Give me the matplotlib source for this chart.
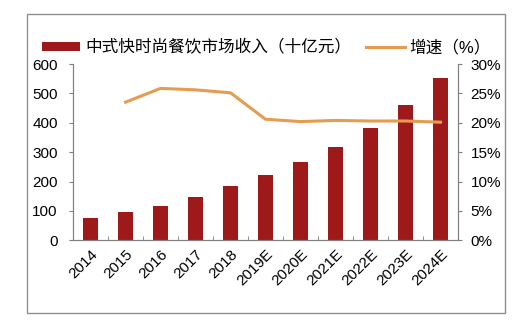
import matplotlib.pyplot as plt
from matplotlib.patches import Rectangle
from matplotlib.ticker import FuncFormatter

plt.rcParams['font.family'] = ['Liberation Sans', 'Noto Sans CJK SC', 'DejaVu Sans']

years = ["2014", "2015", "2016", "2017", "2018", "2019E",
         "2020E", "2021E", "2022E", "2023E", "2024E"]
revenue = [77, 95, 118, 148, 184, 221, 265, 318, 383, 461, 553]
growth = [None, 23.5, 25.85, 25.6, 25.1, 20.6, 20.2, 20.4, 20.3, 20.3, 20.1]

bar_color = "#9E1A1A"
line_color = "#E69C50"

fig = plt.figure(figsize=(5.27, 3.29), dpi=100)
ax = fig.add_axes([73 / 527, 1 - 240.3 / 329, (458 - 73) / 527, (240.3 - 64) / 329])

x = list(range(len(years)))
bars = ax.bar(x, revenue, width=0.45, color=bar_color, label="中式快时尚餐饮市场收入（十亿元）")
ax.set_xlim(-0.5, len(years) - 0.5)
ax.set_ylim(0, 600)
ax.set_yticks(range(0, 601, 100))
ax.set_xticks(x)
ax.set_xticklabels(years, rotation=45, ha="right", rotation_mode="anchor", fontsize=11)
ax.tick_params(axis="x", length=0, pad=5)
ax.set_xticks([i + 0.5 for i in x[:-1]], minor=True)
ax.tick_params(axis="x", which="minor", direction="in", length=3, color="#808080")
ax.tick_params(axis="y", direction="out", length=3, labelsize=11, color="#808080", pad=8)
ax.spines["top"].set_visible(False)
for s in ["left", "right", "bottom"]:
    ax.spines[s].set_color("#808080")

ax2 = ax.twinx()
gx = [i for i, g in zip(x, growth) if g is not None]
gy = [g for g in growth if g is not None]
line, = ax2.plot(gx, gy, color=line_color, linewidth=2.2, label="增速（%）")
ax2.set_ylim(0, 30)
ax2.set_yticks(range(0, 31, 5))
ax2.yaxis.set_major_formatter(FuncFormatter(lambda v, p: f"{int(v)}%"))
ax2.tick_params(axis="y", direction="out", length=3, labelsize=11, color="#808080", pad=6)
ax2.spines["top"].set_visible(False)
for s in ["left", "right", "bottom"]:
    ax2.spines[s].set_color("#808080")

fig.legend(handles=[bars, line], loc="center", bbox_to_anchor=(266.5 / 527, 1 - 47.5 / 329),
           ncol=2, frameon=False, fontsize=12, handlelength=2.3, handleheight=0.45,
           handletextpad=0.3, columnspacing=0.9)

frame = Rectangle((27 / 527, 1 - 312.5 / 329), (505 - 27) / 527, (312.5 - 13.5) / 329,
                  transform=fig.transFigure, fill=False, edgecolor="#909090", linewidth=1)
fig.patches.append(frame)

fig.savefig("out.png", dpi=100)
